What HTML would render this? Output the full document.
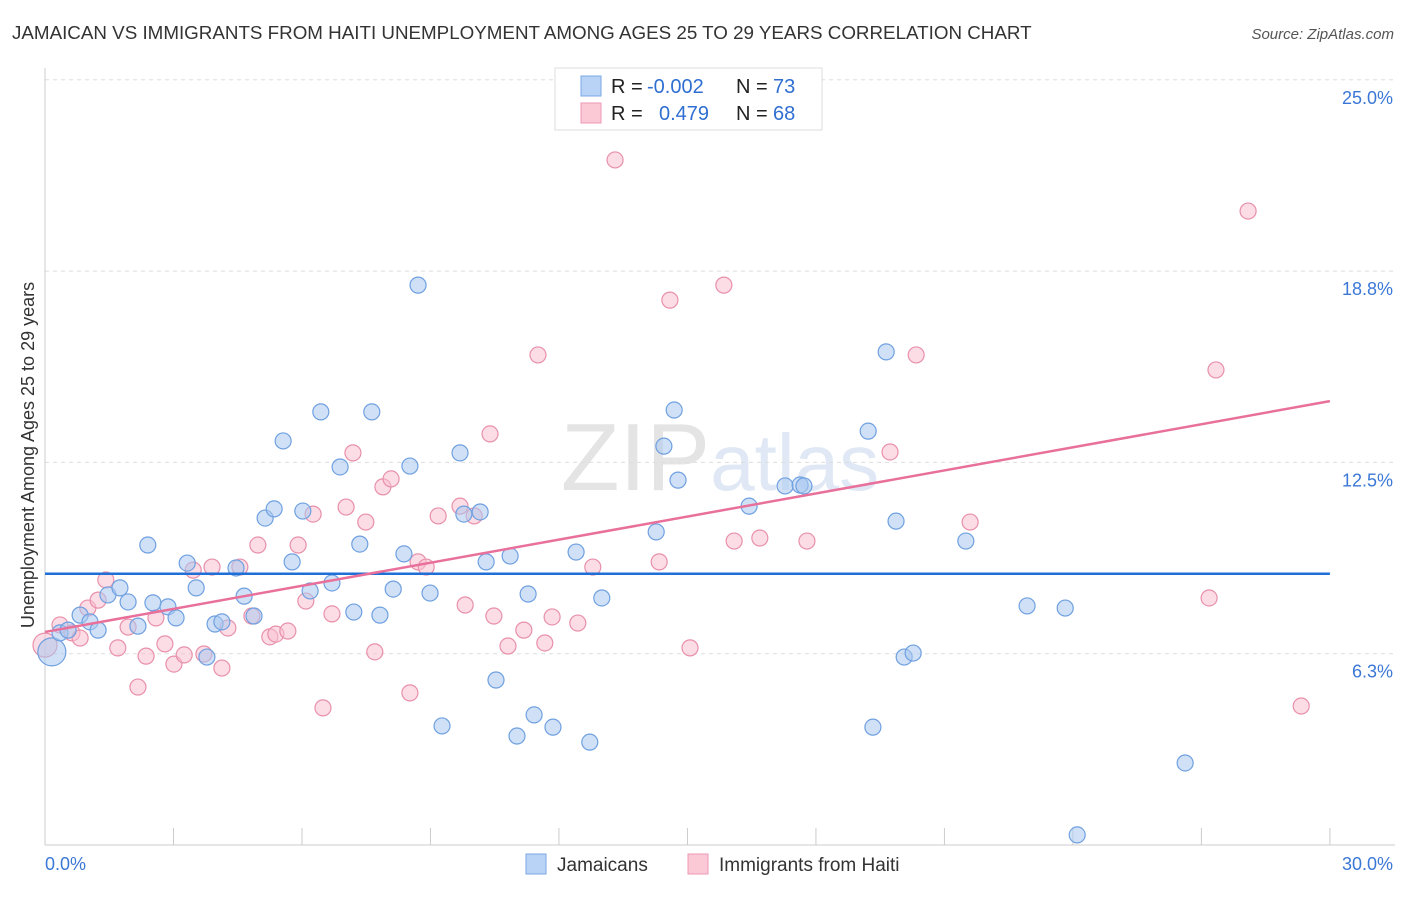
<!DOCTYPE html>
<html><head><meta charset="utf-8">
<style>
body{margin:0;background:#fff;font-family:"Liberation Sans",sans-serif;}
svg text{font-family:"Liberation Sans",sans-serif;}
</style></head>
<body>
<svg id="chart" width="1406" height="892" xmlns="http://www.w3.org/2000/svg">
<text x="12" y="39" font-size="18.8" fill="#333">JAMAICAN VS IMMIGRANTS FROM HAITI UNEMPLOYMENT AMONG AGES 25 TO 29 YEARS CORRELATION CHART</text>
<text x="1394" y="39" font-size="15" fill="#555" font-style="italic" text-anchor="end">Source: ZipAtlas.com</text>
<text x="720" y="490" font-size="96" fill="#e4e4e4" text-anchor="middle" font-family="Liberation Serif">ZIP<tspan fill="#dfe8f4" font-family="Liberation Sans" font-size="80">atlas</tspan></text>
<g id="grid"></g>
<g id="axes"></g>
<g id="marks"></g>
<text transform="translate(34,455) rotate(-90)" font-size="18" fill="#333" text-anchor="middle">Unemployment Among Ages 25 to 29 years</text>
<g>
<rect x="555" y="68" width="267" height="62" fill="#fff" stroke="#ddd"/>
<rect x="581" y="76" width="20" height="20" fill="#b8d3f5" stroke="#7aa8e6"/>
<rect x="581" y="103" width="20" height="20" fill="#fbc8d6" stroke="#ec9ab4"/>
<text x="611" y="93" font-size="20" fill="#222">R =</text>
<text x="647" y="93" font-size="20" fill="#2f6fd1">-0.002</text>
<text x="736" y="93" font-size="20" fill="#222">N =</text>
<text x="773" y="93" font-size="20" fill="#2f6fd1">73</text>
<text x="611" y="120" font-size="20" fill="#222">R =</text>
<text x="659" y="120" font-size="20" fill="#2f6fd1">0.479</text>
<text x="736" y="120" font-size="20" fill="#222">N =</text>
<text x="773" y="120" font-size="20" fill="#2f6fd1">68</text>
</g>
<g>
<rect x="526" y="854" width="20" height="20" fill="#b8d3f5" stroke="#7aa8e6"/>
<text x="557" y="871" font-size="19" fill="#333">Jamaicans</text>
<rect x="688" y="854" width="20" height="20" fill="#fbc8d6" stroke="#ec9ab4"/>
<text x="719" y="871" font-size="19" fill="#333">Immigrants from Haiti</text>
</g>
</svg>
<script>
const yTicks=[6.25,12.5,18.75,25];
const yTickLabels=["6.3%","12.5%","18.8%","25.0%"];
const xTickLabels=["0.0%","30.0%"];
const bluePx=[[52,652],[60,633],[68,630],[80,615],[90,622],[98,630],[108,595],[120,588],[128,602],[138,626],[148,545],[153,603],[168,607],[176,618],[187,563],[196,588],[207,657],[215,624],[222,622],[236,568],[244,596],[254,616],[265,518],[274,509],[283,441],[292,562],[303,511],[310,591],[321,412],[332,583],[340,467],[354,612],[360,544],[372,412],[380,615],[393,589],[404,554],[410,466],[418,285],[430,593],[442,726],[460,453],[464,514],[480,512],[486,562],[496,680],[510,556],[517,736],[528,594],[534,715],[553,727],[576,552],[590,742],[602,598],[656,532],[664,446],[674,410],[678,480],[749,506],[785,486],[800,485],[804,486],[868,431],[873,727],[886,352],[896,521],[904,657],[913,653],[966,541],[1027,606],[1065,608],[1077,835],[1185,763]];
const pinkPx=[[45,645],[60,625],[72,633],[80,638],[88,608],[98,600],[106,580],[118,648],[128,627],[138,687],[146,656],[156,618],[165,644],[174,664],[184,655],[193,570],[204,654],[212,567],[222,668],[228,628],[240,567],[252,616],[258,545],[270,637],[276,634],[288,631],[298,545],[306,601],[313,514],[323,708],[332,614],[346,507],[353,453],[366,522],[375,652],[383,487],[391,479],[410,693],[418,562],[426,567],[438,516],[460,506],[465,605],[474,516],[490,434],[494,616],[508,646],[524,630],[538,355],[545,643],[552,617],[578,623],[593,567],[615,160],[659,562],[670,300],[690,648],[724,285],[734,541],[760,538],[807,541],[890,452],[916,355],[970,522],[1209,598],[1216,370],[1248,211],[1301,706]];
const blueX=bluePx.map(p=>+((p[0]-45)/42.83).toFixed(2));
const blueY=bluePx.map(p=>+((845-p[1])/30.61).toFixed(2));
const pinkX=pinkPx.map(p=>+((p[0]-45)/42.83).toFixed(2));
const pinkY=pinkPx.map(p=>+((845-p[1])/30.61).toFixed(2));
const blueTrend=[[0,8.86],[30,8.86]];
const pinkTrend=[[0,6.96],[30,14.5]];
const NS="http://www.w3.org/2000/svg";
const xs=v=>45+v*42.83, ys=v=>845-v*30.61;
function mk(t,a,parent){const e=document.createElementNS(NS,t);for(const k in a)e.setAttribute(k,a[k]);document.getElementById(parent).appendChild(e);return e;}
yTicks.forEach((t,i)=>{
 const g=mk('line',{x1:45,x2:1395,y1:ys(t),y2:ys(t),stroke:'#ddd','stroke-dasharray':'4,4'},'grid');
 
 const l=mk('text',{x:1393,y:ys(t)+24,'font-size':18,fill:'#3b78d6','text-anchor':'end'},'axes');
 l.textContent=yTickLabels[i];
});
let a=mk('line',{x1:45,x2:45,y1:68,y2:845,stroke:'#ccc'},'axes');
a=mk('line',{x1:45,x2:1395,y1:845,y2:845,stroke:'#ccc'},'axes');
for(let i=0;i<=10;i++){const t=mk('line',{x1:xs(i*3),x2:xs(i*3),y1:828,y2:845,stroke:'#ccc'},'axes');}
let xl=mk('text',{x:45,y:870,'font-size':18,fill:'#3b78d6'},'axes');xl.textContent=xTickLabels[0];
xl=mk('text',{x:1393,y:870,'font-size':18,fill:'#3b78d6','text-anchor':'end'},'axes');xl.textContent=xTickLabels[1];
function pts(X,Y,fill,stroke,name,big){X.forEach((x,i)=>{const r=i===0?big:8;const c=mk('circle',{cx:xs(x),cy:ys(Y[i]),r:r,fill:fill,'fill-opacity':0.55,stroke:stroke,'stroke-width':1.2},'marks');});}
pts(pinkX,pinkY,'#f9c0d0','#e890aa','haiti-point',12);
pts(blueX,blueY,'#a9c8f0','#6fa0e0','jamaican-point',14);
let tl=mk('line',{x1:xs(blueTrend[0][0]),y1:ys(blueTrend[0][1]),x2:xs(blueTrend[1][0]),y2:ys(blueTrend[1][1]),stroke:'#1f6fd6','stroke-width':2.5},'marks');
tl=mk('line',{x1:xs(pinkTrend[0][0]),y1:ys(pinkTrend[0][1]),x2:xs(pinkTrend[1][0]),y2:ys(pinkTrend[1][1]),stroke:'#e8709a','stroke-width':2.5},'marks');
</script>
</body></html>
